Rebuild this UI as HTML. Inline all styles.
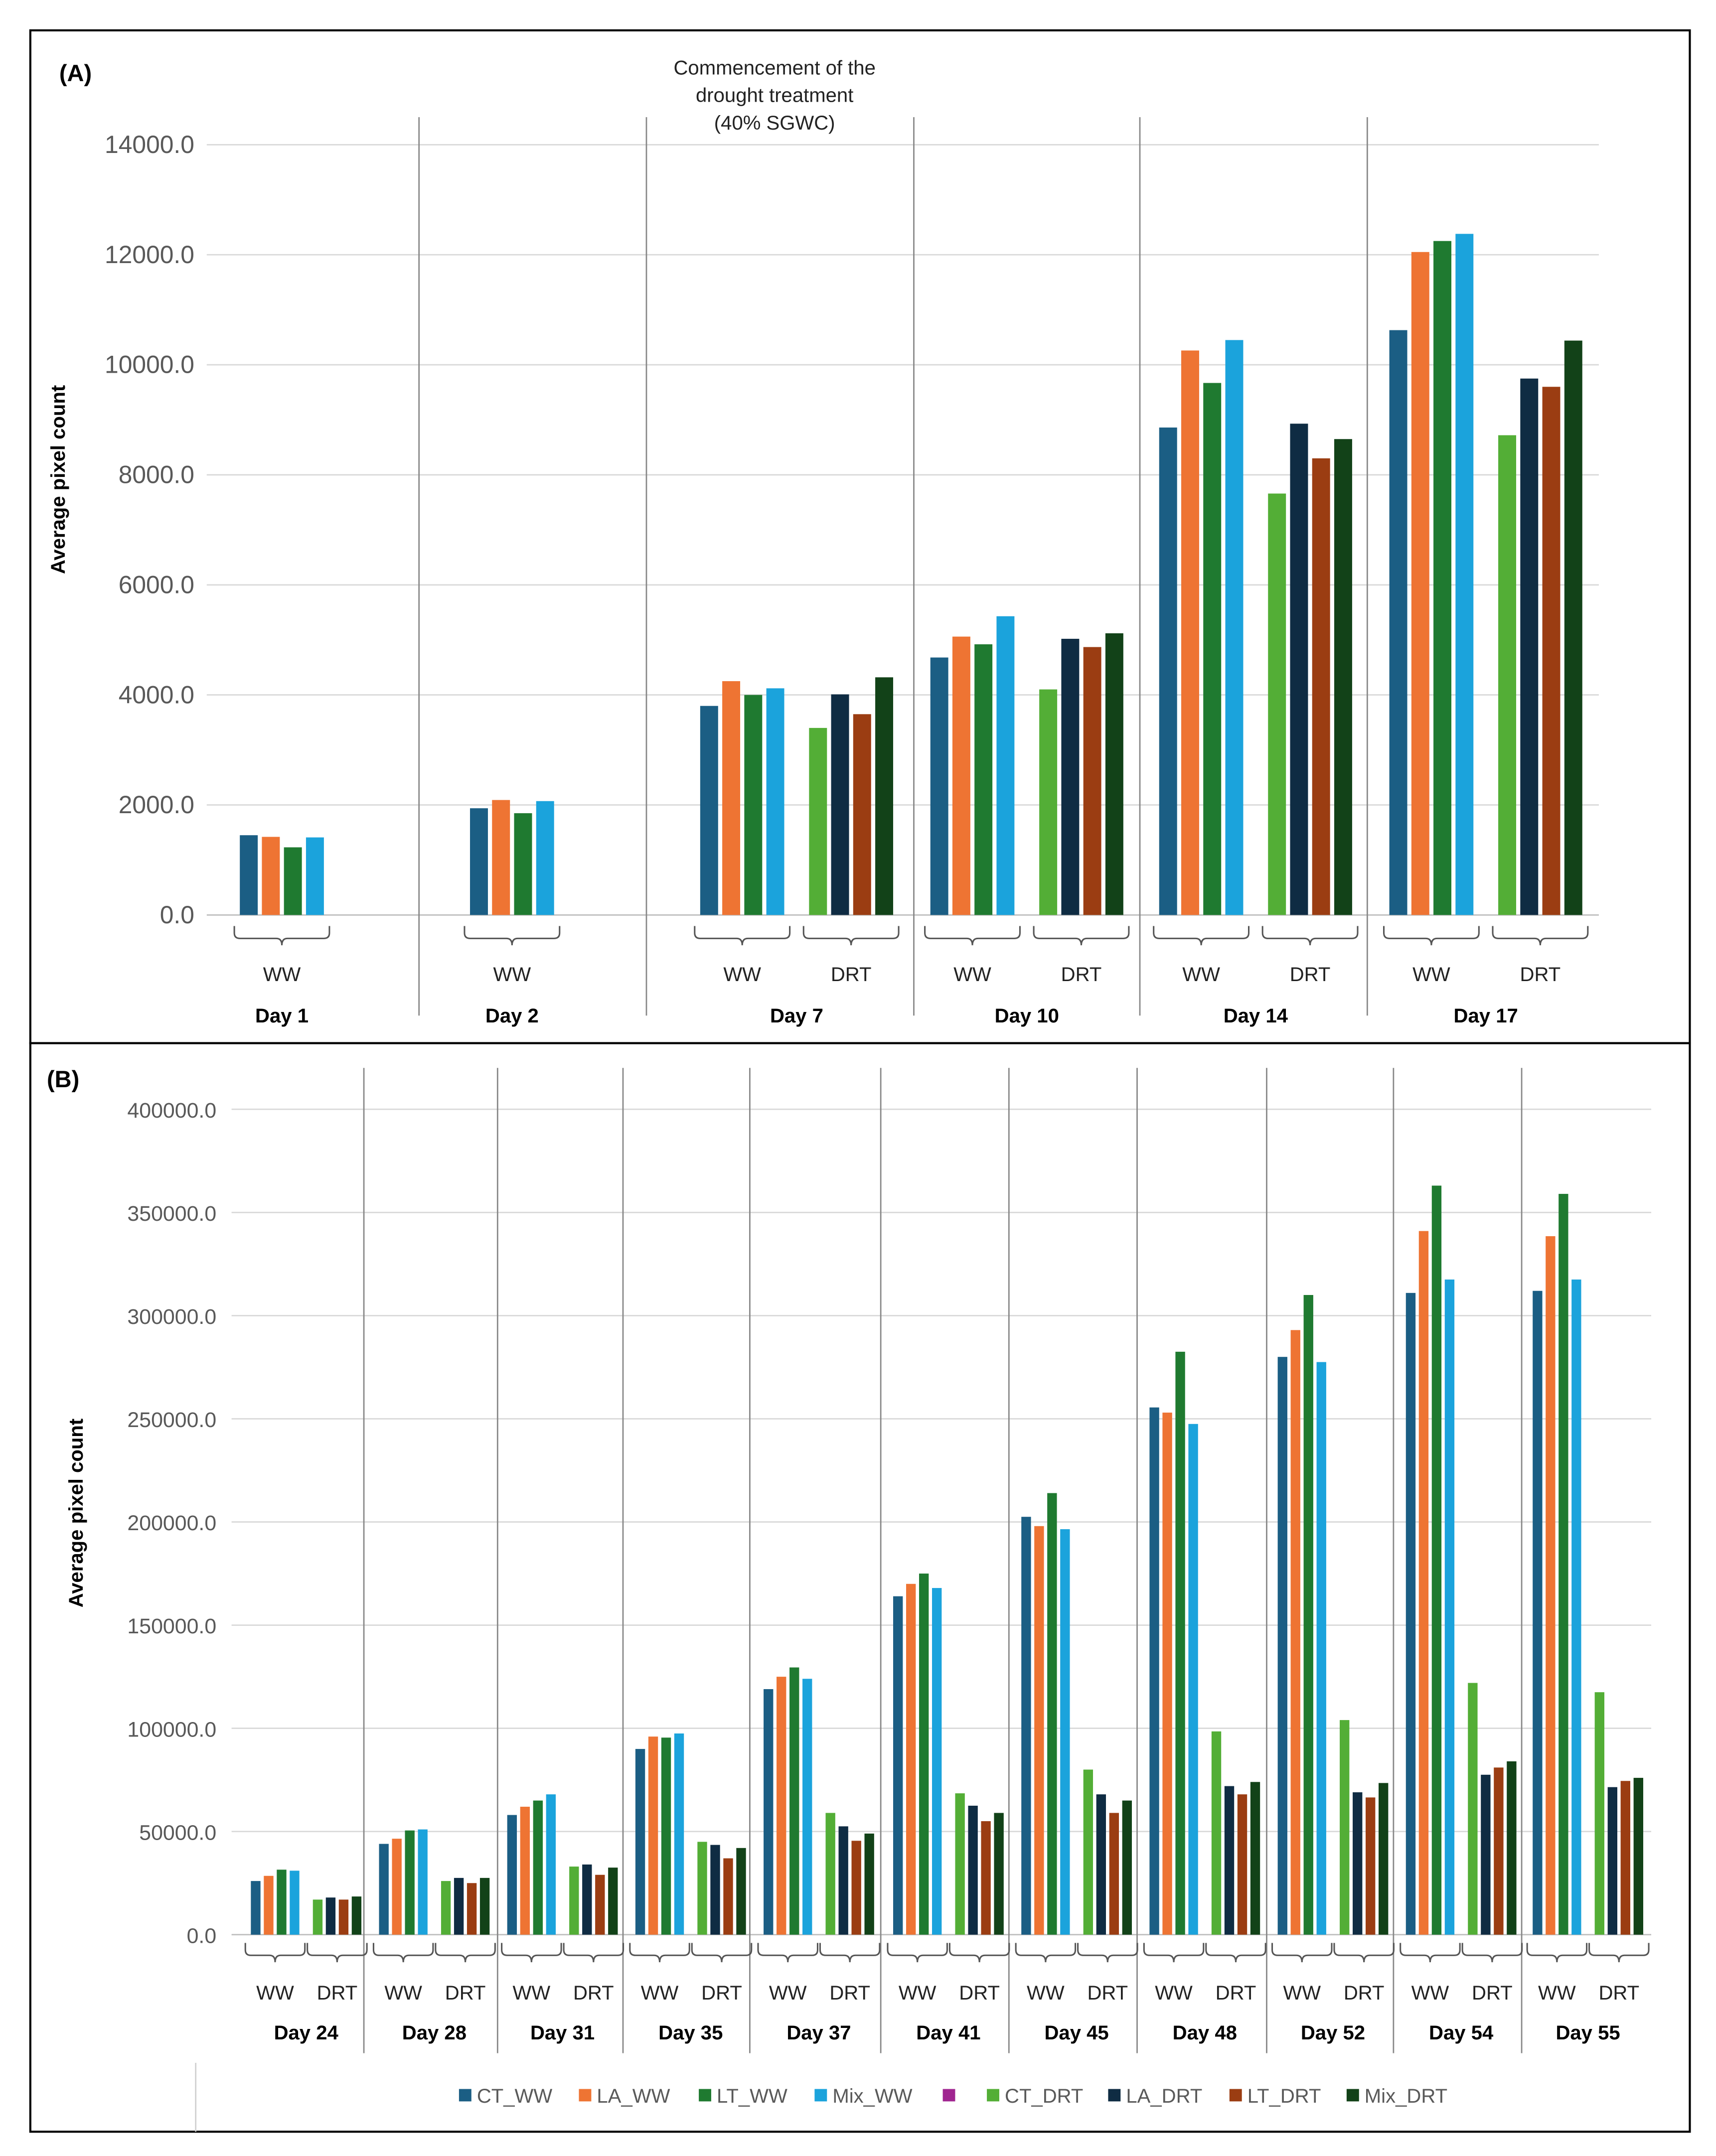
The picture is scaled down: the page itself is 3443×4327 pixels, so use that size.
<!DOCTYPE html>
<html><head><meta charset="utf-8">
<style>
html,body{margin:0;padding:0;background:#fff;}
svg{display:block;font-family:"Liberation Sans",Arial,sans-serif;}
</style></head>
<body>
<svg id="chart" width="3443" height="4327" viewBox="0 0 1245 1564.6" xmlns="http://www.w3.org/2000/svg">
<rect x="0" y="0" width="1245" height="1565" fill="#fff"/>
<rect x="22" y="22" width="1204" height="735" fill="none" stroke="#000" stroke-width="1.5"/>
<rect x="22" y="757" width="1204" height="790" fill="none" stroke="#000" stroke-width="1.5"/>
<text x="43" y="59" font-size="17" font-weight="bold">(A)</text>
<text x="34" y="789" font-size="17" font-weight="bold">(B)</text>
<g font-size="14.5" fill="#222" text-anchor="middle">
<text x="562" y="54">Commencement of the</text>
<text x="562" y="74">drought treatment</text>
<text x="562" y="94">(40% SGWC)</text>
</g>
<text transform="translate(47,348) rotate(-90)" text-anchor="middle" font-size="14.5" font-weight="bold">Average pixel count</text>
<text transform="translate(60,1098) rotate(-90)" text-anchor="middle" font-size="14.5" font-weight="bold">Average pixel count</text>
<g id="ga"></g><g id="gb"></g>
<line x1="142" y1="1497" x2="142" y2="1547" stroke="#d0d0d0" stroke-width="1"/>
<g id="legend"></g>
</svg>
<script>
const NS="http://www.w3.org/2000/svg";
const seriesNames=["CT_WW","LA_WW","LT_WW","Mix_WW","CT_DRT","LA_DRT","LT_DRT","Mix_DRT"];
const seriesColors=["#1b5e84","#ee7433","#1f7a30","#1ba3dc","#53ae36","#0f2c43","#9b3d12","#124218"];
// Panel A data
const daysA=["Day 1","Day 2","Day 7","Day 10","Day 14","Day 17"];
const wwA=[[1450,1420,1230,1410],[1940,2090,1850,2070],[3800,4250,4000,4120],[4680,5060,4920,5430],[8860,10260,9670,10450],[10630,12050,12250,12380]];
const drtA=[null,null,[3400,4010,3650,4320],[4100,5020,4870,5120],[7660,8930,8300,8650],[8720,9750,9600,10440]];
const ticksA=["0.0","2000.0","4000.0","6000.0","8000.0","10000.0","12000.0","14000.0"];
// Panel B data
const daysB=["Day 24","Day 28","Day 31","Day 35","Day 37","Day 41","Day 45","Day 48","Day 52","Day 54","Day 55"];
const wwB=[[26000,28500,31500,31000],[44000,46500,50500,51000],[58000,62000,65000,68000],[90000,96000,95500,97500],[119000,125000,129500,124000],[164000,170000,175000,168000],[202500,198000,214000,196500],[255500,253000,282500,247500],[280000,293000,310000,277500],[311000,341000,363000,317500],[312000,338500,359000,317500]];
const drtB=[[17000,18000,17000,18500],[26000,27500,25000,27500],[33000,34000,29000,32500],[45000,43500,37000,42000],[59000,52500,45500,49000],[68500,62500,55000,59000],[80000,68000,59000,65000],[98500,72000,68000,74000],[104000,69000,66500,73500],[122000,77500,81000,84000],[117500,71500,74500,76000]];
const ticksB=["0.0","50000.0","100000.0","150000.0","200000.0","250000.0","300000.0","350000.0","400000.0"];

function mk(tag,attrs,parent,text){const e=document.createElementNS(NS,tag);for(const k in attrs)e.setAttribute(k,attrs[k]);if(text!==undefined)e.textContent=text;parent.appendChild(e);return e;}
function brace(g,x0,x1,y){const m=(x0+x1)/2;
 const d=`M${x0} ${y} v5 q0 4 4 4 H${m-4} q4 0 4 5 q0 -5 4 -5 H${x1-4} q4 0 4 -4 v-5`;
 const p=mk("path",{d:d,fill:"none",stroke:"#555","stroke-width":1.1},g);
 
 }

function panel(g,cfg){
 const yS=v=>cfg.y0-v/cfg.max*(cfg.y0-cfg.yTop);
 cfg.ticks.forEach((t,i)=>{const v=i*cfg.max/(cfg.ticks.length-1);const y=yS(v);
  const l=mk("line",{x1:cfg.gx0,x2:cfg.gx1,y1:y,y2:y,stroke:i==0?"#bfbfbf":"#d9d9d9","stroke-width":1},g);
  
  
  const tx=mk("text",{x:cfg.lx,y:y+6,"text-anchor":"end","font-size":cfg.tfs,fill:"#595959"},g,t);
  
  });
 cfg.seps.forEach(x=>{const l=mk("line",{x1:x,x2:x,y1:cfg.sy0,y2:cfg.sy1,stroke:"#888","stroke-width":1},g);
  
  });
 cfg.days.forEach((d,i)=>{
  const s=cfg.wwStart[i];
  const groups=[[cfg.ww[i],0,s,"WW"]];
  if(cfg.drt[i])groups.push([cfg.drt[i],4,s+cfg.drtOff,"DRT"]);
  groups.forEach(([vals,off,x0,lab])=>{
   vals.forEach((v,j)=>{const y=yS(v);
    const r=mk("rect",{x:x0+j*cfg.pitch,y:y,width:cfg.bw,height:cfg.y0-y,fill:seriesColors[off+j]},g);
    
    });
   const x1=x0+3*cfg.pitch+cfg.bw;
   brace(g,x0-4,x1+4,cfg.y0+cfg.bOff);
   const t=mk("text",{x:(x0+x1)/2,y:cfg.labY,"text-anchor":"middle","font-size":cfg.lfs,fill:"#222"},g,lab);
   
   
  });
  const cx=cfg.drt[i]?(s+s+cfg.drtOff+3*cfg.pitch+cfg.bw)/2:(s+s+3*cfg.pitch+cfg.bw)/2;
  const t=mk("text",{x:cx,y:cfg.dayY,"text-anchor":"middle","font-size":cfg.dfs,"font-weight":"bold"},g,d);
  
  
 });
}
panel(document.getElementById("ga"),{days:daysA,ww:wwA,drt:drtA,ticks:ticksA,max:14000,y0:664,yTop:105,gx0:150,gx1:1160,lx:141,tfs:18,
 seps:[304,469,663,827,992],sy0:85,sy1:737,wwStart:[174,341,508,675,841,1008],drtOff:79,pitch:16,bw:13,bOff:8,labY:712,dayY:742,lfs:14.5,dfs:14.5});
panel(document.getElementById("gb"),{days:daysB,ww:wwB,drt:drtB,ticks:ticksB,max:400000,y0:1404,yTop:805,gx0:168,gx1:1198,lx:157,tfs:15.5,
 seps:[264,361,452,544,639,732,825,919,1011,1104],sy0:775,sy1:1490,wwStart:[182,275,368,461,554,648,741,834,927,1020,1112],drtOff:45,pitch:9.4,bw:7,bOff:6,labY:1451,dayY:1480,lfs:14.5,dfs:14.5});
// legend
const legX=[333,420,507,591,684,716,804,892,977];
const legNames=["CT_WW","LA_WW","LT_WW","Mix_WW","","CT_DRT","LA_DRT","LT_DRT","Mix_DRT"];
const legColors=["#1b5e84","#ee7433","#1f7a30","#1ba3dc","#a02590","#53ae36","#0f2c43","#9b3d12","#124218"];
const lg=document.getElementById("legend");
legNames.forEach((n,i)=>{
 const r=mk("rect",{x:legX[i],y:1516,width:9,height:9,fill:legColors[i]},lg);
 
 
 if(n){const t=mk("text",{x:legX[i]+13,y:1526,"font-size":14.5,fill:"#595959"},lg,n);
 
 }
});
</script>
</body></html>
